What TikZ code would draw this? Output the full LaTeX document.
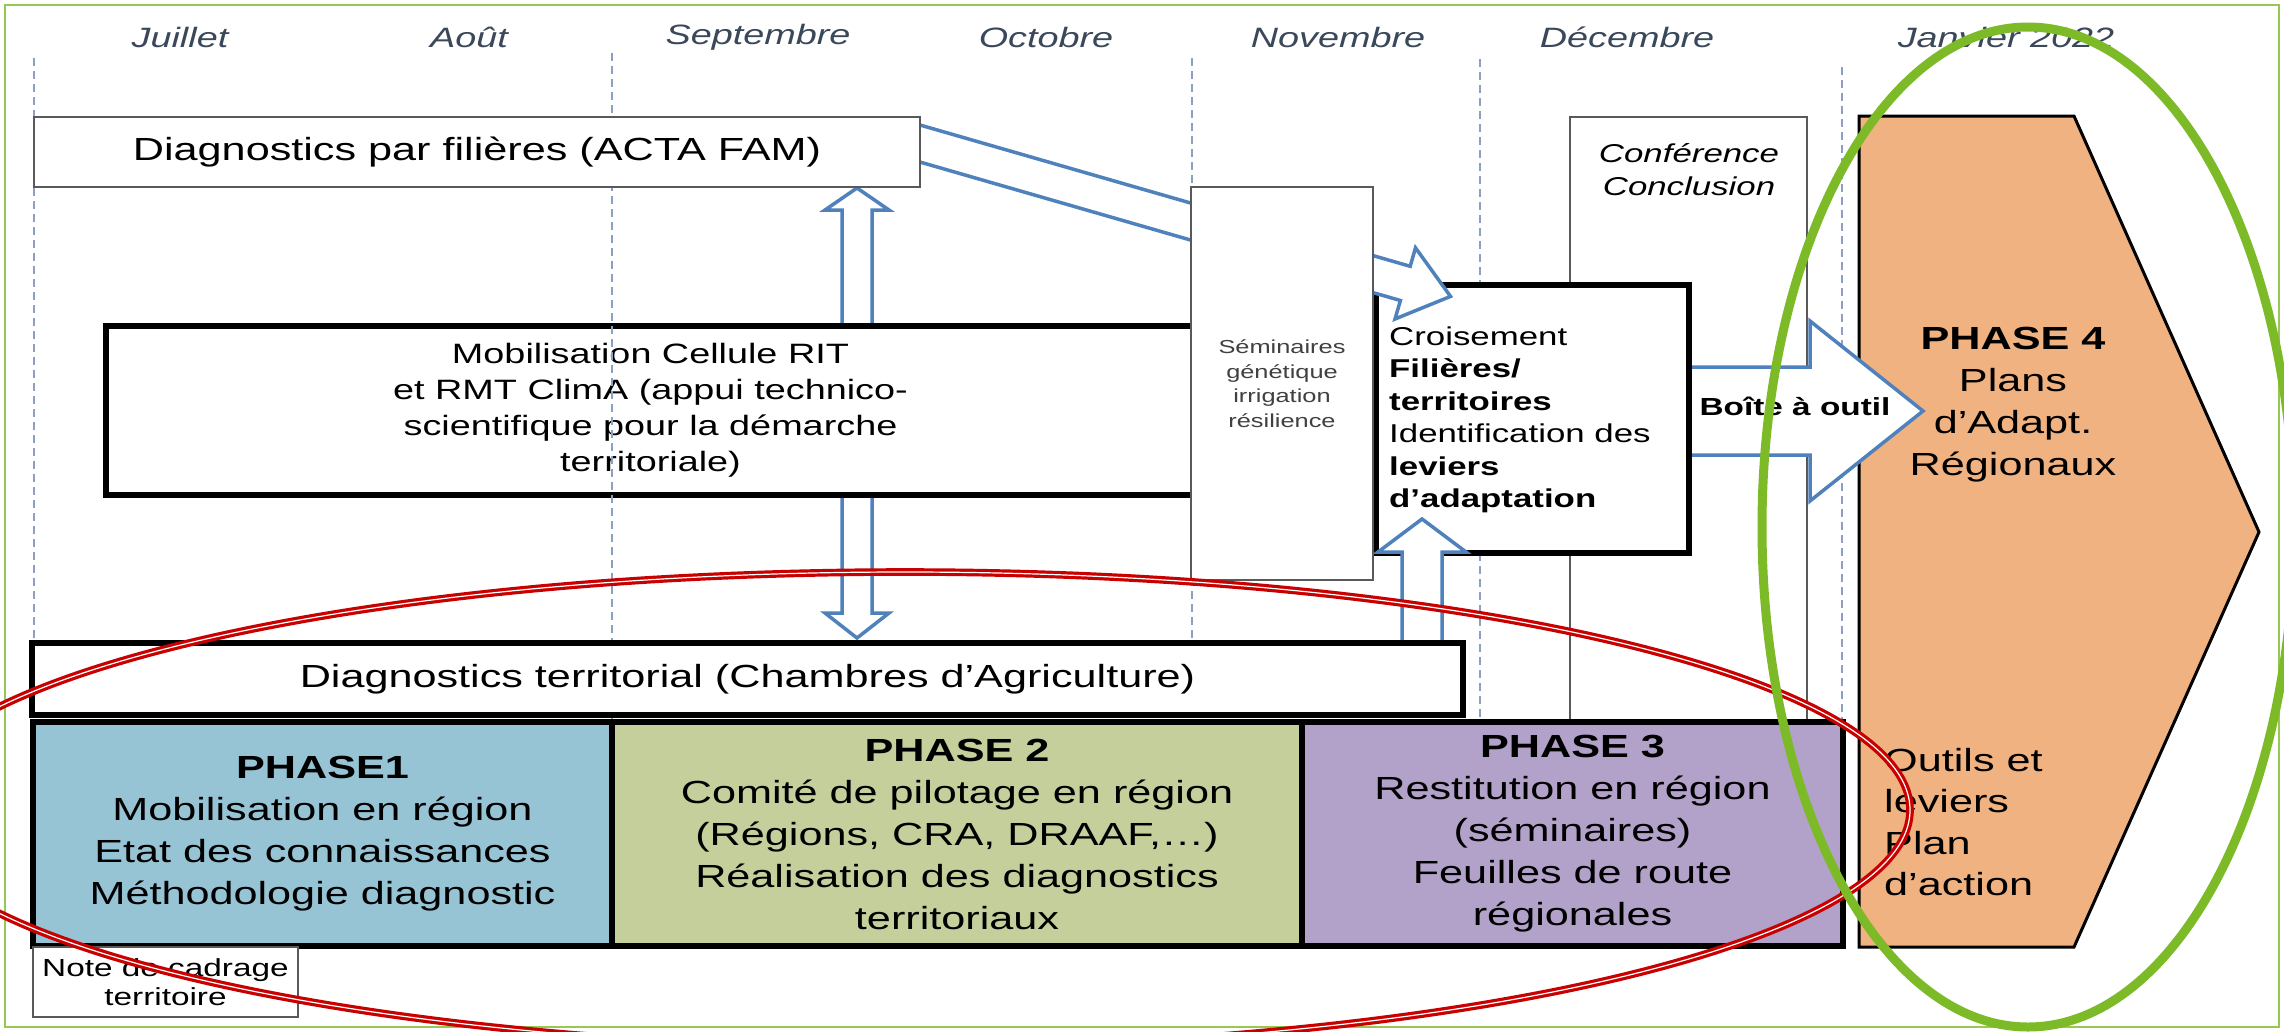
\documentclass[tikz,border=0pt]{standalone}
\usepackage{fontspec}
\setmainfont{Liberation Sans}[FakeStretch=1.35]
\definecolor{arrowblue}{RGB}{79,129,189}
\definecolor{phaseA}{RGB}{150,196,212}
\definecolor{phaseB}{RGB}{196,207,156}
\definecolor{phaseC}{RGB}{178,161,200}
\definecolor{phaseD}{RGB}{240,178,128}
\definecolor{ringgreen}{RGB}{125,186,40}
\definecolor{ringred}{RGB}{200,0,0}
\definecolor{monthgrey}{RGB}{58,72,90}
\definecolor{gridblue}{RGB}{140,160,195}
\definecolor{inkgrey}{RGB}{64,64,64}
\begin{document}
\begin{tikzpicture}[x=1pt,y=-1pt,
  thinbox/.style={draw=black!65, line width=1.8pt, fill=white, inner sep=0pt, outer sep=0pt, anchor=north west},
  thickbox/.style={draw=black, line width=5.5pt, fill=white, inner sep=0pt, outer sep=0pt, anchor=north west},
  phasebox/.style={draw=black, line width=5.5pt, inner sep=0pt, outer sep=0pt, anchor=north west, align=center, font=\fontsize{32}{42}\selectfont, text=black},
  blockarrow/.style={draw=arrowblue, line width=3.5pt, fill=white, line join=miter},
  monthlbl/.style={font=\fontsize{28}{30}\selectfont\itshape, text=monthgrey, inner sep=0pt},
  gridline/.style={draw=gridblue, line width=1.5pt, dash pattern=on 8pt off 5pt},
  txt/.style={align=center, inner sep=0pt, text=black}
]
\useasboundingbox (0,0) rectangle (2284,1031);
\fill[white] (0,0) rectangle (2284,1031);
\draw[ringgreen!80, line width=2.5pt] (5,5) rectangle (2279,1027);

% Conference box
\node[thinbox, minimum width=237pt, minimum height=605pt] (conf) at (1570,117) {};
\node[txt, font=\fontsize{25.8}{33}\selectfont\itshape] (conftext) at (1689,170) {Conférence\\Conclusion};

% up-down double arrow (behind Mobilisation box)
\coordinate (udtop) at (857,188);
\coordinate (udbot) at (857,638);
\draw[blockarrow] (udtop) -- (889,210) -- (872,210) -- (872,613) -- (889,613) -- (udbot)
  -- (825,613) -- (842,613) -- (842,210) -- (825,210) -- cycle;

% Mobilisation box
\node[thickbox, minimum width=1089pt, minimum height=169pt, align=center,
  font=\fontsize{28}{36}\selectfont, text=black] (mob) at (106,326)
  {Mobilisation Cellule RIT\\et RMT ClimA (appui technico-\\scientifique pour la démarche\\territoriale)};

% grid lines and months
\draw[gridline] (34,58) -- (34,643);
\draw[gridline] (612,53) -- (612,722);
\draw[gridline] (1192,58) -- (1192,722);
\draw[gridline] (1480,59) -- (1480,722);
\draw[gridline] (1842,67) -- (1842,722);
\node[monthlbl] (m1) at (180,37) {Juillet};
\node[monthlbl] (m2) at (469,37) {Août};
\node[monthlbl] (m3) at (758,37) {Septembre};
\node[monthlbl] (m4) at (1046,37) {Octobre};
\node[monthlbl] (m5) at (1338,37) {Novembre};
\node[monthlbl] (m6) at (1627,37) {Décembre};
\node[monthlbl] (m7) at (2006,37) {Janvier 2022};

% Croisement box
\node[thickbox, minimum width=313pt, minimum height=268pt] (crois) at (1376,285) {};

% diagonal block arrow from Diagnostics par filieres to Croisement
\draw[blockarrow] (905.7,120.9) -- (1410.2,266.3) -- (1415.5,247.8) -- (1450.5,296.4)
  -- (1395.0,319.0) -- (1400.4,300.5) -- (895.9,155.1) -- cycle;

% Seminaires box
\node[thinbox, minimum width=182pt, minimum height=393pt, align=center,
  font=\fontsize{18.8}{24.5}\selectfont, text=inkgrey] (semin) at (1191,187)
  {Séminaires\\génétique\\irrigation\\résilience};

% Diagnostics par filieres
\node[thinbox, minimum width=886pt, minimum height=70pt, font=\fontsize{32}{36}\selectfont, text=black] (diagfil) at (34,117)
  {Diagnostics par filières (ACTA FAM)};

% up arrow from territorial to Croisement
\draw[blockarrow] (1402,645) -- (1402,552) -- (1378,552) -- (1422,519) -- (1466,552) -- (1442,552) -- (1442,645);

% Diagnostics territorial
\node[thickbox, minimum width=1431pt, minimum height=72pt, font=\fontsize{32}{36}\selectfont, text=black] (terr) at (32,643)
  {Diagnostics territorial (Chambres d’Agriculture)};

% phases
\node[phasebox, fill=phaseA, minimum width=579pt, minimum height=224pt] (ph1) at (33,722)
  {\textbf{PHASE1}\\Mobilisation en région\\Etat des connaissances\\Méthodologie diagnostic};
\node[phasebox, fill=phaseB, minimum width=690pt, minimum height=224pt] (ph2) at (612,722)
  {\textbf{PHASE 2}\\Comité de pilotage en région\\(Régions, CRA, DRAAF,…)\\Réalisation des diagnostics\\territoriaux};
\node[phasebox, fill=phaseC, minimum width=541pt, minimum height=224pt] (ph3) at (1302,722)
  {\textbf{PHASE 3}\\Restitution en région\\(séminaires)\\Feuilles de route\\régionales};

% note de cadrage
\node[thinbox, minimum width=265pt, minimum height=70pt, align=center,
  font=\fontsize{24.7}{29}\selectfont, text=black] (note) at (33,947)
  {Note de cadrage\\territoire};

% Phase 4 pentagon
\draw[fill=phaseD, draw=black, line width=3pt, line join=miter]
  (1859,116) coordinate (p4a) -- (2074,116) -- (2259,532) coordinate (p4tip) -- (2074,947) -- (1859,947) -- cycle;

% Boite a outil arrow
\draw[blockarrow] (1692,367) -- (1810,367) -- (1810,321) -- (1923,411) -- (1810,501) -- (1810,455) -- (1692,455);
\node[txt, font=\fontsize{24.7}{28}\selectfont\bfseries] (boite) at (1795,406) {Boîte à outil};

% texts
\node[align=left, inner sep=0pt, anchor=west, text=black, font=\fontsize{25.8}{32.5}\selectfont] (croistext) at (1389,420)
  {Croisement\\\textbf{Filières/}\\\textbf{territoires}\\Identification des\\\textbf{leviers}\\\textbf{d’adaptation}};
\node[txt, font=\fontsize{32}{42}\selectfont] (p4text) at (2013,405)
  {\textbf{PHASE 4}\\Plans\\d’Adapt.\\Régionaux};
\node[align=left, inner sep=0pt, anchor=west, text=black, font=\fontsize{32}{41.5}\selectfont] (p4tools) at (1884,822)
  {Outils et\\leviers\\Plan\\d’action};

% highlight ellipses
\draw[ringred, line width=3.2pt, double=white, double distance=1.2pt] (905,810) ellipse [x radius=1005, y radius=238];
\draw[ringgreen, line width=9pt] (2028,527) ellipse [x radius=266, y radius=500];
\end{tikzpicture}
\end{document}
